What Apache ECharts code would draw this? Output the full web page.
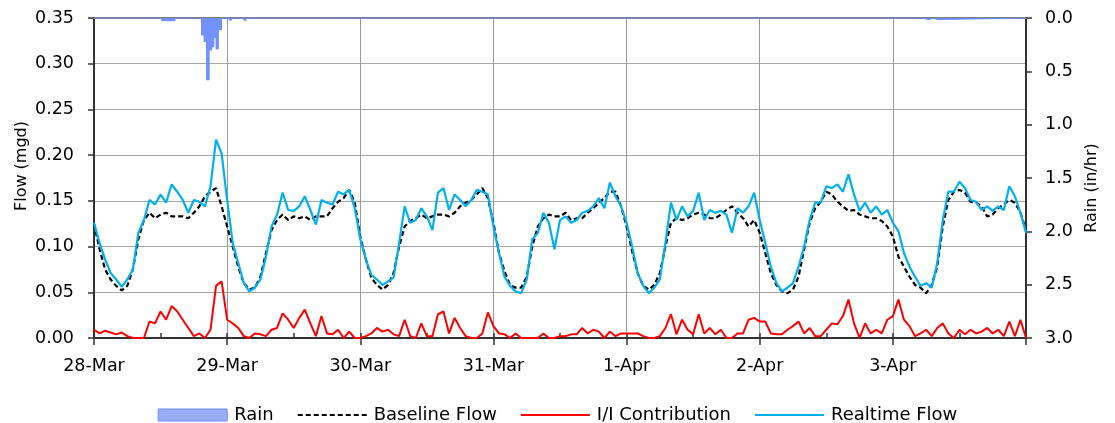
<!DOCTYPE html>
<html>
<head>
<meta charset="utf-8">
<script src="https://cdn.jsdelivr.net/npm/echarts@6/dist/echarts.min.js"></script>
<style>html,body{margin:0;padding:0;background:#fff}#c{width:1115px;height:423px}</style>
</head>
<body>
<div id="c"></div>
<script>
// ---- data (hourly, hour 0 = 28-Mar 00:00) ----
const dayLabels = ['28-Mar','29-Mar','30-Mar','31-Mar','1-Apr','2-Apr','3-Apr',''];
const flowTicks = [0,0.05,0.10,0.15,0.20,0.25,0.30,0.35];
const rainTicks = [0,0.5,1.0,1.5,2.0,2.5,3.0];

const realtimeFlow = [
0.126,0.104,0.086,0.071,0.064,0.056,0.064,0.075,0.115,0.129,0.151,0.146,0.157,0.148,0.168,0.160,0.151,0.137,0.151,0.149,0.144,0.166,0.217,0.202,
0.151,0.104,0.082,0.060,0.051,0.055,0.064,0.089,0.122,0.135,0.159,0.140,0.139,0.144,0.155,0.140,0.124,0.151,0.148,0.146,0.160,0.157,0.162,0.142,
0.108,0.086,0.069,0.064,0.058,0.062,0.066,0.104,0.144,0.126,0.129,0.142,0.133,0.118,0.159,0.164,0.140,0.157,0.151,0.144,0.151,0.162,0.160,0.157,
0.122,0.093,0.067,0.057,0.051,0.049,0.064,0.108,0.115,0.137,0.126,0.097,0.129,0.133,0.126,0.129,0.137,0.139,0.144,0.153,0.142,0.170,0.155,0.144,
0.126,0.100,0.071,0.057,0.049,0.055,0.064,0.104,0.148,0.129,0.144,0.133,0.139,0.159,0.129,0.140,0.137,0.139,0.135,0.115,0.142,0.137,0.144,0.159,
0.129,0.104,0.078,0.060,0.051,0.055,0.060,0.078,0.100,0.129,0.148,0.148,0.166,0.164,0.168,0.160,0.179,0.157,0.139,0.148,0.137,0.144,0.135,0.140,
0.126,0.117,0.093,0.078,0.067,0.057,0.060,0.055,0.082,0.129,0.160,0.160,0.171,0.164,0.151,0.149,0.140,0.144,0.139,0.144,0.140,0.166,0.155,0.137,
0.115];

const baselineFlow = [
0.125,0.097,0.075,0.064,0.057,0.052,0.057,0.075,0.108,0.129,0.137,0.131,0.135,0.137,0.133,0.133,0.133,0.131,0.137,0.144,0.155,0.160,0.164,0.144,
0.122,0.100,0.078,0.060,0.053,0.055,0.067,0.093,0.118,0.129,0.135,0.129,0.133,0.131,0.133,0.129,0.133,0.133,0.133,0.142,0.149,0.153,0.162,0.148,
0.111,0.086,0.066,0.058,0.053,0.058,0.071,0.100,0.122,0.128,0.131,0.135,0.131,0.133,0.135,0.135,0.133,0.137,0.144,0.148,0.151,0.157,0.164,0.153,
0.126,0.093,0.073,0.058,0.055,0.055,0.067,0.100,0.122,0.131,0.135,0.133,0.133,0.137,0.129,0.131,0.131,0.137,0.142,0.148,0.153,0.160,0.160,0.144,
0.122,0.095,0.071,0.057,0.053,0.058,0.071,0.100,0.126,0.131,0.129,0.131,0.135,0.137,0.135,0.131,0.131,0.135,0.140,0.144,0.137,0.131,0.122,0.129,
0.115,0.093,0.071,0.058,0.051,0.049,0.053,0.067,0.097,0.126,0.142,0.149,0.160,0.157,0.149,0.144,0.139,0.140,0.135,0.133,0.131,0.131,0.128,0.122,
0.111,0.089,0.078,0.067,0.058,0.055,0.049,0.058,0.078,0.122,0.151,0.160,0.162,0.159,0.149,0.148,0.144,0.133,0.135,0.142,0.146,0.151,0.148,0.137,
0.118];

const iiContribution = [
0.009,0.005,0.008,0.006,0.004,0.006,0.002,0.000,0.000,0.000,0.018,0.016,0.029,0.020,0.035,0.029,0.020,0.011,0.002,0.005,0.000,0.009,0.057,0.062,
0.020,0.016,0.011,0.002,0.000,0.005,0.004,0.002,0.009,0.011,0.027,0.020,0.011,0.022,0.031,0.016,0.002,0.024,0.005,0.004,0.009,0.000,0.007,0.000,
0.000,0.002,0.005,0.011,0.007,0.009,0.004,0.002,0.020,0.002,0.000,0.016,0.002,0.002,0.026,0.029,0.005,0.022,0.011,0.002,0.000,0.000,0.005,0.028,
0.013,0.005,0.004,0.000,0.005,0.000,0.000,0.000,0.000,0.005,0.000,0.000,0.002,0.002,0.004,0.004,0.011,0.005,0.009,0.007,0.000,0.007,0.002,0.005,
0.005,0.005,0.005,0.002,0.000,0.000,0.002,0.011,0.026,0.004,0.020,0.009,0.004,0.026,0.005,0.011,0.004,0.009,0.000,0.000,0.005,0.005,0.020,0.022,
0.018,0.018,0.005,0.004,0.004,0.009,0.013,0.018,0.005,0.011,0.002,0.002,0.009,0.016,0.015,0.024,0.042,0.016,0.000,0.016,0.005,0.009,0.005,0.020,
0.024,0.042,0.020,0.013,0.002,0.005,0.009,0.002,0.011,0.016,0.005,0.000,0.009,0.004,0.009,0.005,0.007,0.011,0.005,0.009,0.002,0.018,0.002,0.020,
0.000];

// rain: hour at which each rate starts (held until next hour entry)
const rainHours = [0, 12.2, 14.6, 19.4, 19.85, 20.3, 20.75, 21.2, 21.6, 22.0, 22.4, 23.0, 24.4, 24.8, 27.0, 27.4, 149.2, 150.5, 151.3, 152.0, 168];
const rainRate  = [0, 0.025, 0, 0.16, 0.22, 0.58, 0.30, 0.27, 0.18, 0.29, 0.11, 0, 0.02, 0, 0.02, 0, 0.015, 0, 0.015, 0, 0];

const pairs = arr => arr.map((v, i) => [i, v]);
const rainData = rainHours.map((h, i) => [h, rainRate[i]]);

const FONT = 'DejaVu Sans';
const FS = 17.5;
const chart = echarts.init(document.getElementById('c'), null, {renderer: 'canvas'});
chart.setOption({
  animation: false,
  textStyle: {fontFamily: FONT, color: '#000'},
  grid: {left: 94, right: 89, top: 18, bottom: 85},
  legend: {
    top: 401, left: 'center',
    itemWidth: 69, itemHeight: 12, itemGap: 23,
    textStyle: {fontFamily: FONT, fontSize: 18, color: '#000', padding: [0, 0, 0, 2]},
    data: [
      {name: 'Rain', icon: 'rect', itemStyle: {color: '#98adfb', borderColor: '#6b8cff', borderWidth: 1}},
      {name: 'Baseline Flow', itemStyle: {opacity: 0}},
      {name: 'I/I Contribution', itemStyle: {opacity: 0}},
      {name: 'Realtime Flow', itemStyle: {opacity: 0}}
    ]
  },
  xAxis: [
    {
      type: 'value', min: 0, max: 168, interval: 24, position: 'bottom',
      axisLine: {show: true, onZero: false, lineStyle: {color: '#333', width: 2}},
      axisTick: {show: true, length: 7, lineStyle: {color: '#333', width: 1.5}},
      axisLabel: {margin: 19, fontSize: FS, fontFamily: FONT, color: '#000',
        formatter: v => dayLabels[Math.round(v / 24)] || ''},
      splitLine: {show: true, lineStyle: {color: '#9a9a9a', width: 1}}
    },
    {
      type: 'value', min: 0, max: 168, interval: 12, position: 'bottom',
      axisLine: {show: false, onZero: false},
      axisTick: {show: true, inside: true, length: 5, lineStyle: {color: '#333', width: 1.5}},
      axisLabel: {show: false}, splitLine: {show: false}
    },
    {
      type: 'value', min: 0, max: 168, position: 'top',
      axisLine: {show: true, onZero: false, lineStyle: {color: '#808080', width: 2}},
      axisTick: {show: false}, axisLabel: {show: false}, splitLine: {show: false}
    }
  ],
  yAxis: [
    {
      type: 'value', min: 0, max: 0.35, interval: 0.05, position: 'left',
      name: 'Flow (mgd)', nameLocation: 'middle', nameGap: 64, nameRotate: 90,
      nameMoveOverlap: false,
      nameTextStyle: {fontFamily: FONT, fontSize: 16, color: '#000', padding: [0, 0, 0, 24]},
      axisLine: {show: true, onZero: false, lineStyle: {color: '#333', width: 2}},
      axisTick: {show: true, length: 6, lineStyle: {color: '#333', width: 1.5}},
      axisLabel: {margin: 20, fontSize: FS, fontFamily: FONT, color: '#000',
        formatter: v => v.toFixed(2)},
      splitLine: {show: true, lineStyle: {color: '#a6a6a6', width: 1}}
    },
    {
      type: 'value', min: 0, max: 3, interval: 0.5, inverse: true, position: 'right',
      name: 'Rain (in/hr)', nameLocation: 'middle', nameGap: 58, nameRotate: 90,
      nameTextStyle: {fontFamily: FONT, fontSize: 16, color: '#000', padding: [0, 20, 0, 0]},
      axisLine: {show: true, onZero: false, lineStyle: {color: '#333', width: 2}},
      axisTick: {show: true, length: 6, lineStyle: {color: '#333', width: 1.5}},
      axisLabel: {margin: 19, fontSize: FS, fontFamily: FONT, color: '#000',
        formatter: v => v.toFixed(1)},
      splitLine: {show: false}
    }
  ],
  series: [
    {
      name: 'Rain', type: 'line', yAxisIndex: 1, step: 'end', symbol: 'none',
      data: rainData,
      itemStyle: {color: '#98adfb', borderColor: '#6b8cff'},
      lineStyle: {color: '#6b8cff', width: 1},
      areaStyle: {color: '#6b8cff', opacity: 0.95},
      z: 1
    },
    {
      name: 'Baseline Flow', type: 'line', symbol: 'none',
      data: pairs(baselineFlow),
      itemStyle: {color: '#000'},
      lineStyle: {color: '#000', width: 2.2, type: [5, 3]},
      z: 3
    },
    {
      name: 'I/I Contribution', type: 'line', symbol: 'none',
      data: pairs(iiContribution),
      itemStyle: {color: '#ff0000'},
      lineStyle: {color: '#ff0000', width: 2},
      z: 2
    },
    {
      name: 'Realtime Flow', type: 'line', symbol: 'none',
      data: pairs(realtimeFlow),
      itemStyle: {color: '#00b0f0'},
      lineStyle: {color: '#00b0f0', width: 2.2},
      z: 4
    }
  ]
});
</script>
</body>
</html>
